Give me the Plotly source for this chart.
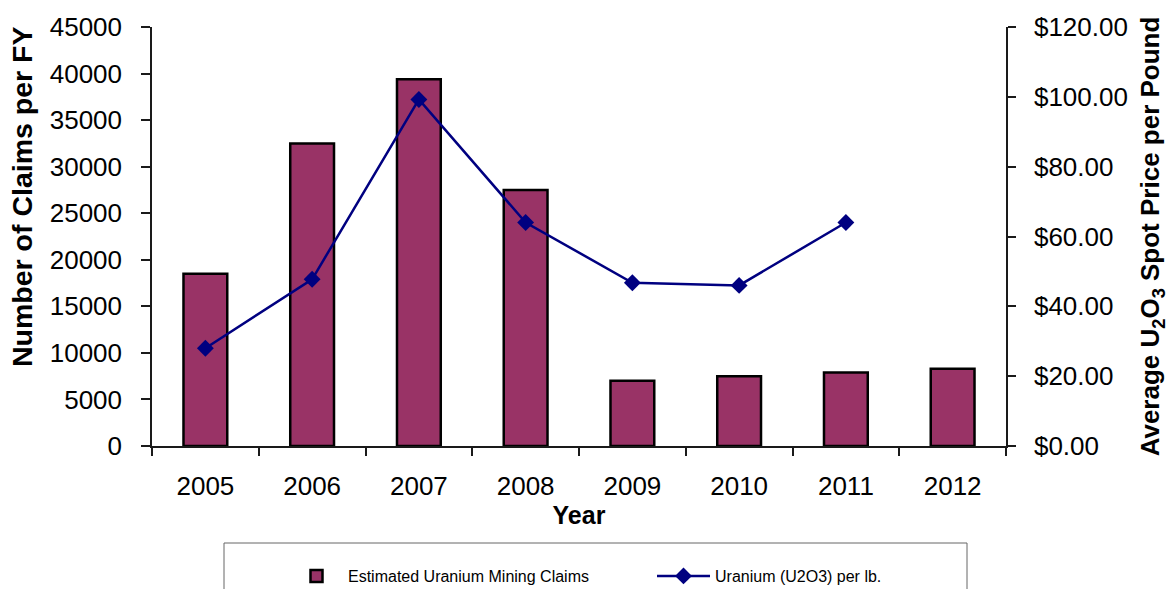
import plotly.graph_objects as go

# Fiscal years and series values
years = ["2005", "2006", "2007", "2008", "2009", "2010", "2011", "2012"]
claims = [18500, 32500, 39400, 27500, 7000, 7500, 7900, 8300]
price = [28.0, 47.75, 99.25, 64.0, 46.75, 46.0, 64.0, None]

W, H = 1169, 589
ML, MR, MT, MB = 152, 163, 27, 143
PW, PH = W - ML - MR, H - MT - MB

FONT = "Arial, Liberation Sans, sans-serif"
AXIS_COLOR = "#1a1a1a"


def px_x(p):
    return (p - ML) / PW


def px_y(p):
    return (H - MB - p) / PH


fig = go.Figure()

fig.add_trace(go.Bar(
    x=years, y=claims,
    name="Estimated Uranium Mining Claims",
    marker=dict(color="#993366", line=dict(color="#000000", width=2.5)),
    yaxis="y",
))

fig.add_trace(go.Scatter(
    x=years, y=price,
    name="Uranium (U2O3) per lb.",
    mode="lines+markers",
    line=dict(color="#000080", width=2.5),
    marker=dict(symbol="diamond", size=13, color="#000080"),
    connectgaps=False,
    yaxis="y2",
))

tick_common = dict(tickcolor=AXIS_COLOR, tickwidth=1.5, showgrid=False, zeroline=False)

fig.update_layout(
    width=W, height=H,
    margin=dict(l=ML, r=MR, t=MT, b=MB, autoexpand=False),
    paper_bgcolor="white",
    plot_bgcolor="white",
    font=dict(family=FONT, size=26, color="#000000"),
    bargap=0.59,
    showlegend=True,
    legend=dict(
        orientation="h",
        x=px_x(285), xanchor="left",
        y=px_y(559), yanchor="top",
        font=dict(family=FONT, size=16, color="#000000"),
        itemwidth=53,
        entrywidth=299,
        bgcolor="rgba(0,0,0,0)",
        borderwidth=0,
    ),
    xaxis=dict(
        type="category",
        range=[-0.5, 7.5],
        showline=True, linecolor=AXIS_COLOR, linewidth=1.5,
        ticks="outside", ticklen=8, tickson="boundaries",
        tickfont=dict(size=26),
        ticklabelstandoff=16,
        title=dict(text="Year", font=dict(size=25, weight="bold"), standoff=0),
        **tick_common,
    ),
    yaxis=dict(
        range=[0, 45000],
        dtick=5000,
        tickformat="d",
        showline=True, linecolor=AXIS_COLOR, linewidth=1.5,
        ticks="outside", ticklen=9,
        tickfont=dict(size=26),
        ticklabelstandoff=14,
        **tick_common,
    ),
    yaxis2=dict(
        range=[0, 120],
        dtick=20,
        tickprefix="$",
        tickformat=".2f",
        overlaying="y",
        side="right",
        showline=True, linecolor=AXIS_COLOR, linewidth=1.5,
        ticks="outside", ticklen=8,
        tickfont=dict(size=26),
        ticklabelstandoff=13,
        title=dict(text="Average U<sub>2</sub>O<sub>3</sub> Spot Price per Pound",
                   font=dict(size=26, weight="bold"), standoff=14),
        **tick_common,
    ),
    annotations=[
        dict(text="Number of Claims per FY", textangle=-90,
             xref="paper", yref="paper", x=px_x(22), y=px_y(197),
             xanchor="center", yanchor="middle", showarrow=False,
             font=dict(family=FONT, size=28.5, weight="bold", color="#000000")),
    ],
    shapes=[
        dict(type="rect", xref="paper", yref="paper",
             x0=px_x(224), x1=px_x(967), y0=px_y(610), y1=px_y(543),
             line=dict(color="#666666", width=1), fillcolor="rgba(0,0,0,0)",
             layer="below"),
    ],
)

fig.write_html("out.html")
